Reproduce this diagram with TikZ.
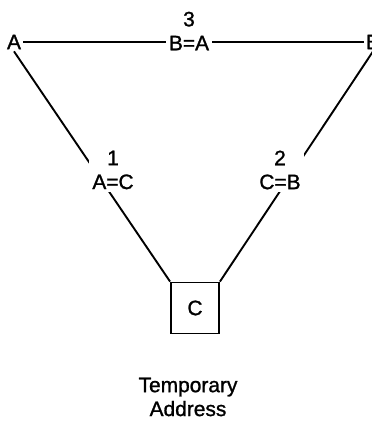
\documentclass[tikz,border=0pt]{standalone}
\usepackage{fontspec}
\setmainfont{Liberation Sans}
\newfontfamily\diagfont{Liberation Sans}[FakeBold=1.2]
\usetikzlibrary{positioning, backgrounds}

\begin{document}
\begin{tikzpicture}[
        x=1bp, y=-1bp,
        %% Grid: one unit per pixel of the original, y running downwards.
        lbl/.style={font=\diagfont\fontsize{21}{24}\selectfont, inner sep=2pt},
        eqlbl/.style={lbl, fill=white, align=center, inner sep=3pt},
        membox/.style={rectangle, draw, line width=1.9bp, minimum width=48bp, minimum height=51bp, font=\diagfont\fontsize{21}{24}\selectfont},
        link/.style={line width=1.9bp}
    ]
    \useasboundingbox (0,0) rectangle (372,428);

    %% --- Registers (row y=42) ---
    \node[lbl] (regA) at (14, 42)  {A};
    \node[lbl] (regB) at (373, 42) {B};

    %% --- Temporary location ---
    \node[membox] (tmp) at (195, 308) {C};
    \node[lbl, align=center] (caption) at (188, 397) {Temporary\\Address};

    %% --- Step labels, white so they break the lines ---
    \node[eqlbl] (step3) at (189, 31)  {3\\B=A};
    \node[eqlbl] (step1) at (113, 170) {1\\A=C};
    \node[eqlbl] (step2) at (280, 170) {2\\C=B};

    %% --- Transfers behind the labels ---
    \begin{scope}[on background layer]
        \draw[link] (regA.east) -- (regB.west);
        \draw[link] (regA.south) -- (tmp.north west);
        \draw[link] (regB.south) -- (tmp.north east);
    \end{scope}
\end{tikzpicture}
\end{document}
